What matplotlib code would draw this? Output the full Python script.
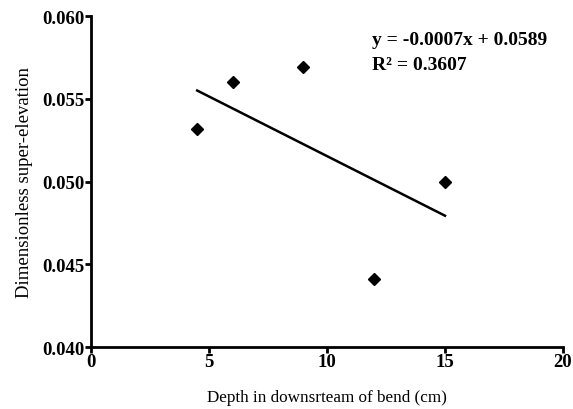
import numpy as np
import matplotlib.pyplot as plt

# Depth in downstream of bend (cm) and dimensionless super-elevation
depth = [4.5, 6, 9, 12, 15]
super_elev = [0.0532, 0.0560, 0.0569, 0.0441, 0.0500]

plt.rcParams['font.family'] = ['Liberation Serif', 'DejaVu Serif']

fig = plt.figure(figsize=(5.73, 4.10), dpi=100)
ax = fig.add_axes([0.1588, 0.1512, 0.8237, 0.8073])

ax.plot(depth, super_elev, 'D', color='black', markersize=6.5, clip_on=False)

# Linear trend line
slope, intercept = np.polyfit(depth, super_elev, 1)
xs = np.array([min(depth), max(depth)])
ax.plot(xs, slope * xs + intercept, color='black', linewidth=1.8)

ax.text(11.9, 0.05831, 'y = -0.0007x + 0.0589', fontsize=14, fontweight='bold', va='baseline')
ax.text(11.9, 0.05680, 'R² = 0.3607', fontsize=14, fontweight='bold', va='baseline')

ax.set_xlim(0, 20)
ax.set_ylim(0.040, 0.060)
ax.set_xticks([0, 5, 10, 15, 20])
ax.set_yticks([0.040, 0.045, 0.050, 0.055, 0.060])
ax.set_yticklabels(['0.040', '0.045', '0.050', '0.055', '0.060'])

for s in ['top', 'right']:
    ax.spines[s].set_visible(False)
for s in ['left', 'bottom']:
    ax.spines[s].set_linewidth(2)

ax.tick_params(width=2, length=4, labelsize=13.5, pad=1)
ax.tick_params(axis='x', pad=0)
for lbl in ax.get_xticklabels() + ax.get_yticklabels():
    lbl.set_fontweight('bold')

ax.set_xlabel('Depth in downsrteam of bend (cm)', fontsize=12.3, labelpad=14)
ax.set_ylabel('Dimensionless super-elevation', fontsize=13.5, labelpad=6)

fig.savefig('out.png', dpi=100)
